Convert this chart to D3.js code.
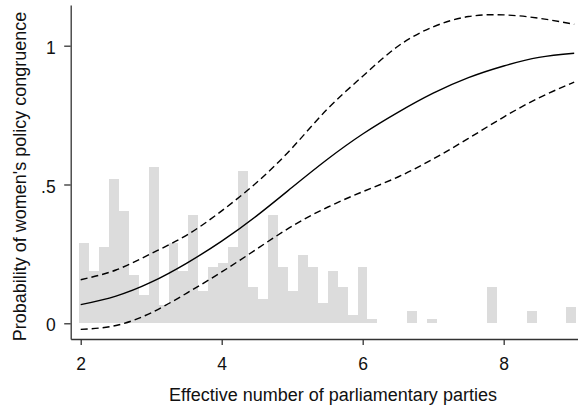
<!DOCTYPE html>
<html>
<head>
<meta charset="utf-8">
<script src="https://cdn.jsdelivr.net/npm/d3@7/dist/d3.min.js"></script>
<style>
  html, body { margin: 0; padding: 0; background: #fff; }
  svg { display: block; font-family: "Liberation Sans", Arial, Helvetica, sans-serif; }
</style>
</head>
<body>
<svg id="chart" width="578" height="408"></svg>
<script>
// ---- Data ----
// Histogram of effective number of parliamentary parties (density, 50 bins)
const binStart = 1.976;
const binWidth = 0.1411;
const binHeights = [
  0.290, 0.188, 0.276, 0.520, 0.406, 0.174, 0.102, 0.564, 0.065, 0.290,
  0.188, 0.390, 0.116, 0.204, 0.218, 0.276, 0.550, 0.132, 0.086, 0.390,
  0.204, 0.116, 0.246, 0.204, 0.072, 0.188, 0.132, 0.030, 0.204, 0.014,
  0, 0, 0, 0.044, 0, 0.015, 0, 0, 0, 0,
  0, 0.131, 0, 0, 0, 0.044, 0, 0, 0, 0.059
];

// Predicted probability and 95% confidence bounds
const enppX     = [2, 2.5, 3, 3.5, 4, 4.5, 5, 5.5, 6, 6.5, 7, 7.5, 8, 8.5, 9];
const predicted = [0.067, 0.098, 0.148, 0.216, 0.296, 0.388, 0.490, 0.591, 0.682, 0.760, 0.829, 0.885, 0.927, 0.958, 0.973];
const upperCI   = [0.157, 0.192, 0.251, 0.317, 0.405, 0.508, 0.632, 0.772, 0.890, 0.998, 1.068, 1.105, 1.111, 1.099, 1.077];
const lowerCI   = [-0.022, -0.008, 0.038, 0.108, 0.185, 0.268, 0.350, 0.418, 0.474, 0.527, 0.592, 0.666, 0.743, 0.812, 0.869];

const xTicks = [2, 4, 6, 8];
const yTicks = [0, 0.5, 1];
const yTickLabels = ["0", ".5", "1"];
const xTitle = "Effective number of parliamentary parties";
const yTitle = "Probability of women's policy congruence";

// ---- Chart ----
const svg = d3.select("#chart");
const mLeft = 70.7, mRight = 577.5, mTop = 5, mBottom = 339;

const x = d3.scaleLinear().domain([1.858, 9.047]).range([mLeft, mRight]);
const y = d3.scaleLinear().domain([-0.0566, 1.1466]).range([mBottom, mTop]);

// Histogram bars
const bins = binHeights.map((h, i) => ({ x0: binStart + i * binWidth, x1: binStart + (i + 1) * binWidth, h }));
svg.append("g").selectAll("rect")
  .data(bins.filter(d => d.h > 0))
  .join("rect")
  .attr("x", d => x(d.x0))
  .attr("width", d => x(d.x1) - x(d.x0))
  .attr("y", d => y(d.h))
  .attr("height", d => y(0) - y(d.h))
  .attr("fill", "#dcdcdc")
  .attr("shape-rendering", "crispEdges");

// Lines
const mk = vals => d3.line()
  .x((d, i) => x(enppX[i]))
  .y(d => y(d))
  .curve(d3.curveNatural)(vals);

svg.append("path").attr("d", mk(upperCI)).attr("fill", "none")
  .attr("stroke", "#000").attr("stroke-width", 1.4).attr("stroke-dasharray", "7,4");
svg.append("path").attr("d", mk(lowerCI)).attr("fill", "none")
  .attr("stroke", "#000").attr("stroke-width", 1.4).attr("stroke-dasharray", "7,4");
svg.append("path").attr("d", mk(predicted)).attr("fill", "none")
  .attr("stroke", "#000").attr("stroke-width", 1.4);

// Axes
const axisColor = "#333";
const tickFont = 17.5;
const xAxis = svg.append("g")
  .attr("transform", `translate(0,${mBottom})`)
  .call(d3.axisBottom(x).tickValues(xTicks).tickFormat(d3.format("d")).tickSize(6).tickSizeOuter(0).tickPadding(12.3));
const yAxis = svg.append("g")
  .attr("transform", `translate(${mLeft},0)`)
  .call(d3.axisLeft(y).tickValues(yTicks).tickFormat((d, i) => yTickLabels[i]).tickSize(6.5).tickSizeOuter(0).tickPadding(8.5));

[xAxis, yAxis].forEach(g => {
  g.select(".domain").attr("stroke", axisColor).attr("stroke-width", 1.3);
  g.selectAll(".tick line").attr("stroke", axisColor).attr("stroke-width", 1.3);
  g.selectAll(".tick text").attr("fill", "#111").attr("font-size", tickFont)
    .attr("font-family", "'Liberation Sans', Arial, sans-serif");
});
yAxis.selectAll(".tick text").attr("dy", "0.43em");

// Titles
svg.append("text")
  .attr("x", 333).attr("y", 401)
  .attr("text-anchor", "middle")
  .attr("font-size", 18).attr("fill", "#111")
  .text(xTitle);
svg.append("text")
  .attr("transform", "translate(26.2,176.5) rotate(-90)")
  .attr("text-anchor", "middle")
  .attr("font-size", 18).attr("fill", "#111")
  .text(yTitle);
</script>
</body>
</html>
